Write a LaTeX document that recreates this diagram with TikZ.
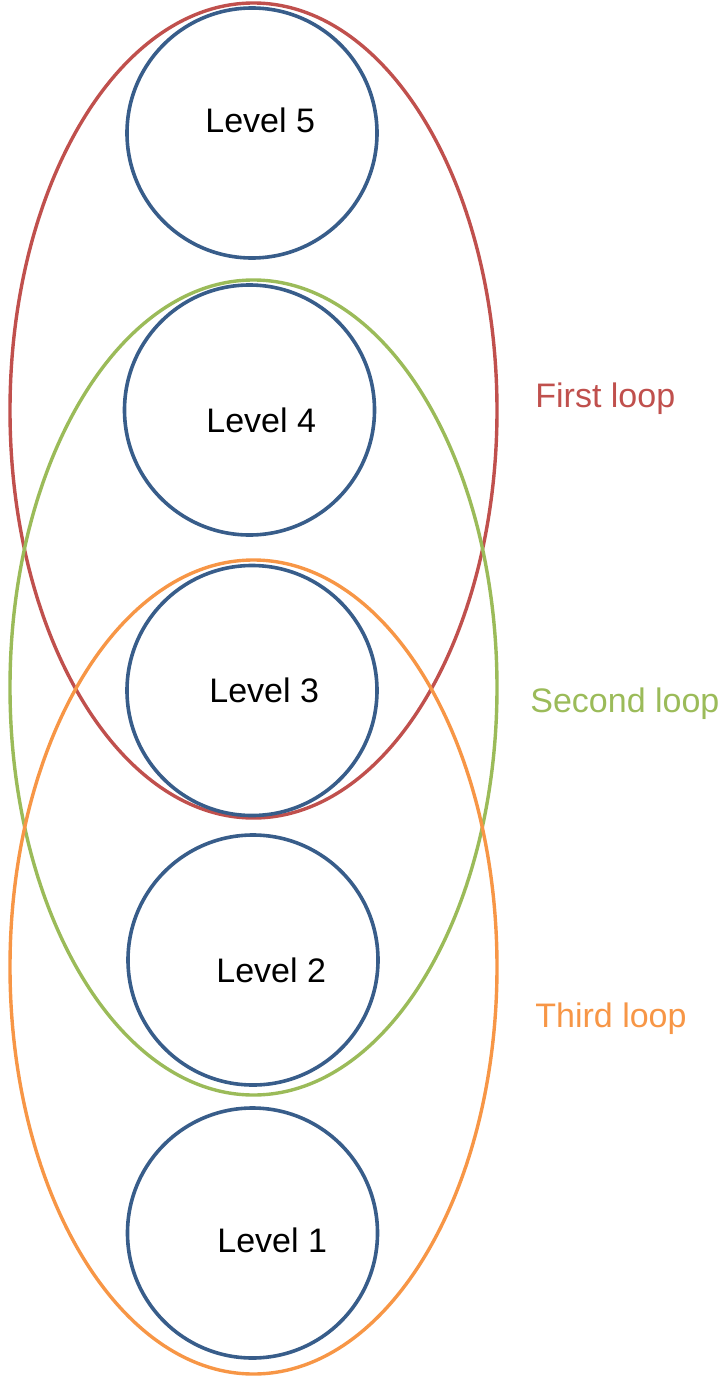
\documentclass[tikz,border=0pt]{standalone}
\usepackage{fontspec}
\setmainfont{Liberation Sans}
\usepackage{tikz}

\definecolor{lvlblue}{RGB}{56,93,138}
\definecolor{looperred}{RGB}{192,80,77}
\definecolor{loopgreen}{RGB}{155,187,89}
\definecolor{looporange}{RGB}{247,150,70}

\tikzstyle{level} = [draw=lvlblue, line width=1.8pt, circle,
    minimum size=125pt, inner sep=0pt]
\tikzstyle{leveltext} = [anchor=base west, inner sep=0pt,
    font=\fontsize{17}{20}\selectfont]
\tikzstyle{loop} = [line width=1.7pt]
\tikzstyle{looptext} = [anchor=base west, inner sep=0pt,
    font=\fontsize{17}{20}\selectfont]

\begin{document}
\begin{tikzpicture}[x=0.5pt, y=-0.5pt]
	\useasboundingbox (0,0) rectangle (722,1376);

	% The three loops
	\draw [loop, draw=looperred] (253.5,410.5) ellipse [x radius=243.5, y radius=407.5];
	\draw [loop, draw=loopgreen] (253.5,687.5) ellipse [x radius=243.5, y radius=407.5];
	\draw [loop, draw=looporange] (253.5,967) ellipse [x radius=243.5, y radius=407];

	% Level circles
	\node [level] (lvl5) at (252,133) {};
	\node [level] (lvl4) at (249.5,410) {};
	\node [level] (lvl3) at (252,690.5) {};
	\node [level] (lvl2) at (253,960) {};
	\node [level] (lvl1) at (252.5,1233) {};

	% Level names
	\node [leveltext] (txt5) at (205,132) {Level 5};
	\node [leveltext] (txt4) at (206,432) {Level 4};
	\node [leveltext] (txt3) at (209,702) {Level 3};
	\node [leveltext] (txt2) at (216,982) {Level 2};
	\node [leveltext] (txt1) at (217,1252) {Level 1};

	% Loop names
	\node [looptext, text=looperred] (first) at (535,407) {First loop};
	\node [looptext, text=loopgreen] (second) at (530,712) {Second loop};
	\node [looptext, text=looporange] (third) at (535,1027) {Third loop};
\end{tikzpicture}
\end{document}
